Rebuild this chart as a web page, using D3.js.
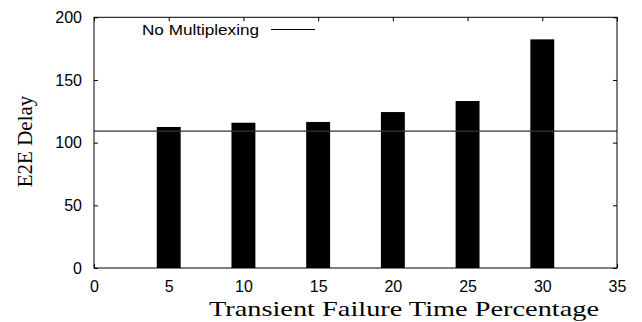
<!DOCTYPE html>
<html>
<head>
<meta charset="utf-8">
<script src="https://cdn.jsdelivr.net/npm/d3@7"></script>
<style>
  html, body { margin: 0; padding: 0; background: #fff; }
  svg { display: block; }
</style>
</head>
<body>
<script>
// ---- data ----
const categories = [5, 10, 15, 20, 25, 30];
const delayValues = [112.5, 115.9, 116.5, 124.4, 133.2, 182.4];
const baselineValue = 109.2;           // "No Multiplexing"
const xTicks = [0, 5, 10, 15, 20, 25, 30, 35];
const yTicks = [0, 50, 100, 150, 200];
const legendLabel = "No Multiplexing";
const xTitle = "Transient Failure Time Percentage";
const yTitle = "E2E Delay";

// ---- layout ----
const W = 642, H = 322;
const L = 94, R = 617, T = 17.3, B = 268;

const svg = d3.select("body").append("svg").attr("width", W).attr("height", H);

const x = d3.scaleLinear().domain([0, 35]).range([L, R]);
const y = d3.scaleLinear().domain([0, 200]).range([B, T]);

const sans = "'Liberation Sans', Arial, Helvetica, sans-serif";
const serif = "'Liberation Serif', 'Times New Roman', serif";

// bars
const barW = x(1.6) - x(0);
svg.append("g").selectAll("rect").data(categories).join("rect")
  .attr("x", (d) => x(d) - barW / 2)
  .attr("y", (d, i) => y(delayValues[i]))
  .attr("width", barW)
  .attr("height", (d, i) => y(0) - y(delayValues[i]))
  .attr("fill", "#000");

// baseline line
svg.append("line")
  .attr("x1", x(0)).attr("x2", x(35))
  .attr("y1", y(baselineValue)).attr("y2", y(baselineValue))
  .attr("stroke", "#333").attr("stroke-width", 1.2);

// axes (inward ticks, mirrored)
const tick = 4;
const gxB = svg.append("g").attr("transform", `translate(0,${B})`)
  .call(d3.axisBottom(x).tickValues(xTicks).tickSizeInner(-tick).tickSizeOuter(0).tickPadding(13));
const gxT = svg.append("g").attr("transform", `translate(0,${T})`)
  .call(d3.axisTop(x).tickValues(xTicks).tickSizeInner(-tick).tickSizeOuter(0).tickFormat(""));
const gyL = svg.append("g").attr("transform", `translate(${L},0)`)
  .call(d3.axisLeft(y).tickValues(yTicks).tickSizeInner(-tick).tickSizeOuter(0).tickPadding(12));
const gyR = svg.append("g").attr("transform", `translate(${R},0)`)
  .call(d3.axisRight(y).tickValues(yTicks).tickSizeInner(-tick).tickSizeOuter(0).tickFormat(""));

[gxB, gxT, gyL, gyR].forEach(g => {
  g.select(".domain").remove();
  g.selectAll("line").attr("stroke", "#000").attr("stroke-width", 1);
  g.selectAll("text").attr("font-family", sans).attr("font-size", 16).attr("fill", "#000");
});

// frame
svg.append("rect").attr("x", L).attr("y", T).attr("width", R - L).attr("height", B - T)
  .attr("fill", "none").attr("stroke", "#000").attr("stroke-width", 1);

// legend
svg.append("text").attr("x", 259).attr("y", 35).attr("text-anchor", "end")
  .attr("font-family", sans).attr("font-size", 15.5)
  .attr("textLength", 117).attr("lengthAdjust", "spacingAndGlyphs").text(legendLabel);
svg.append("line").attr("x1", 271).attr("x2", 315).attr("y1", 29.5).attr("y2", 29.5)
  .attr("stroke", "#000").attr("stroke-width", 1);

// titles
svg.append("text").attr("x", 404).attr("y", 316).attr("text-anchor", "middle")
  .attr("font-family", serif).attr("font-size", 22)
  .attr("textLength", 390).attr("lengthAdjust", "spacingAndGlyphs").text(xTitle);
svg.append("text").attr("transform", "translate(32,141.5) rotate(-90)").attr("text-anchor", "middle")
  .attr("font-family", serif).attr("font-size", 21).text(yTitle);
</script>
</body>
</html>
